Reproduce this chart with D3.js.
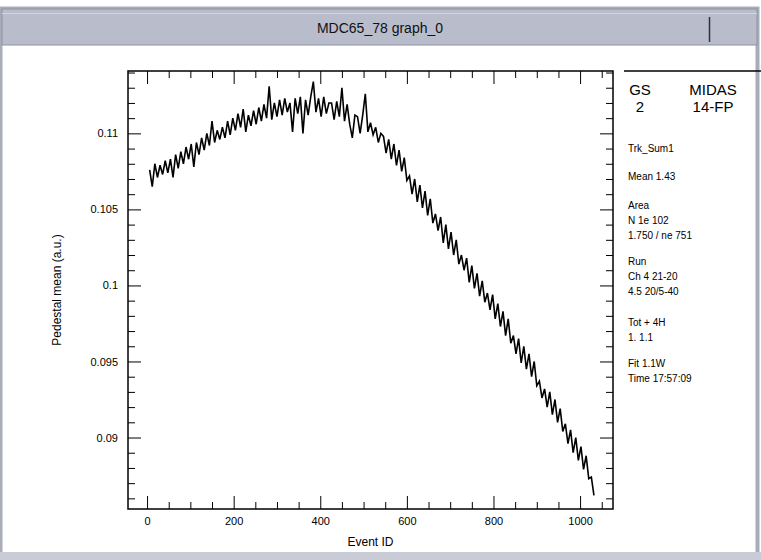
<!DOCTYPE html>
<html>
<head>
<meta charset="utf-8">
<script src="https://cdn.jsdelivr.net/npm/d3@7"></script>
<style>
  body { margin: 0; background: #fff; }
  svg { display: block; font-family: "Liberation Sans", Arial, sans-serif; }
</style>
</head>
<body>
<div id="viz"></div>
<script>
// chart content
const windowTitle = "MDC65_78 graph_0";
const xTitle = "Event ID";
const yTitle = "Pedestal mean (a.u.)";

// graph points: x = xStart + i * xStep (channel spacing), y
const xStart = 6;
const xStep = 6;
const yValues = [
    0.1076, 0.1065, 0.1080, 0.1071, 0.1079, 0.1073, 0.1082, 0.1074, 0.1083, 0.1071,
    0.1086, 0.1077, 0.1088, 0.1080, 0.1091, 0.1083, 0.1093, 0.1078, 0.1094, 0.1086,
    0.1097, 0.1089, 0.1100, 0.1092, 0.1108, 0.1094, 0.1102, 0.1096, 0.1104, 0.1097,
    0.1108, 0.1099, 0.1110, 0.1102, 0.1113, 0.1104, 0.1116, 0.1101, 0.1112, 0.1105,
    0.1115, 0.1106, 0.1117, 0.1108, 0.1119, 0.1110, 0.1131, 0.1109, 0.1120, 0.1111,
    0.1122, 0.1112, 0.1123, 0.1114, 0.1120, 0.1101, 0.1123, 0.1113, 0.1124, 0.1100,
    0.1122, 0.1112, 0.1124, 0.1134, 0.1114, 0.1123, 0.1111, 0.1124, 0.1113, 0.1120,
    0.1120, 0.1109, 0.1121, 0.1111, 0.1130, 0.1108, 0.1119, 0.1106, 0.1097, 0.1112,
    0.1111, 0.1100, 0.1112, 0.1126, 0.1101, 0.1107, 0.1099, 0.1104, 0.1094, 0.1100,
    0.1098, 0.1087, 0.1096, 0.1083, 0.1093, 0.1079, 0.1089, 0.1075, 0.1084, 0.1069,
    0.1072, 0.1060, 0.1070, 0.1055, 0.1066, 0.1051, 0.1062, 0.1046, 0.1057, 0.1041,
    0.1047, 0.1036, 0.1045, 0.1028, 0.1040, 0.1024, 0.1035, 0.1020, 0.1030, 0.1014,
    0.1020, 0.1010, 0.1018, 0.1002, 0.1013, 0.0998, 0.1008, 0.0993, 0.1003, 0.0989,
    0.0995, 0.0984, 0.0994, 0.0978, 0.0988, 0.0973, 0.0983, 0.0967, 0.0978, 0.0962,
    0.0967, 0.0955, 0.0965, 0.0949, 0.0960, 0.0945, 0.0955, 0.0940, 0.0950, 0.0934,
    0.0937, 0.0926, 0.0932, 0.0920, 0.0930, 0.0915, 0.0925, 0.0910, 0.0919, 0.0904,
    0.0909, 0.0896, 0.0905, 0.0890, 0.0900, 0.0885, 0.0894, 0.0879, 0.0888, 0.0873,
    0.0874, 0.0862
];

// axes
const xDomain = [-44, 1076];
const yDomain = [0.0853, 0.1141];
const xMajorTicks = [0, 200, 400, 600, 800, 1000];
const xMinorTicks = [50, 100, 150, 250, 300, 350, 450, 500, 550, 650, 700, 750, 850, 900, 950, 1050];
const yMajorTicks = [0.09, 0.095, 0.1, 0.105, 0.11];
const yMajorLabels = ["0.09", "0.095", "0.1", "0.105", "0.11"];
const yMinorTicks = [0.086, 0.087, 0.088, 0.089, 0.091, 0.092, 0.093, 0.094, 0.096, 0.097, 0.098, 0.099,
    0.101, 0.102, 0.103, 0.104, 0.106, 0.107, 0.108, 0.109, 0.111, 0.112, 0.113, 0.114];

// stats pave text
const statsHeader = [["GS", "MIDAS"], ["2", "14-FP"]];
const statsLines = [
    ["Trk_Sum1"],
    ["Mean 1.43"],
    ["Area", "N   1e 102", "1.750 / ne 751"],
    ["Run", "Ch 4 21-20", "4.5 20/5-40"],
    ["Tot + 4H", "1.  1.1"],
    ["Fit  1.1W", "Time 17:57:09"]
];

const width = 761;
const height = 560;
const frame = { left: 128, top: 71, right: 613, bottom: 509 };

const svg = d3.select("#viz")
    .append("svg")
    .attr("width", width)
    .attr("height", height);

// window chrome
svg.append("rect").attr("x", 0).attr("y", 0).attr("width", width).attr("height", height).attr("fill", "#fff");
svg.append("rect").attr("x", 0.5).attr("y", 8.5).attr("width", width - 4).attr("height", height - 9)
    .attr("fill", "none").attr("stroke", "#a9adb9").attr("stroke-width", 4);
svg.append("rect").attr("x", 2).attr("y", 9).attr("width", width - 6).attr("height", 36)
    .attr("fill", "#b8bccb").attr("stroke", "#8f93a2");
svg.append("line").attr("x1", 2).attr("x2", width - 4).attr("y1", 13.5).attr("y2", 13.5)
    .attr("stroke", "#d3d6df");
svg.append("line").attr("x1", 709.5).attr("x2", 709.5).attr("y1", 17).attr("y2", 42)
    .attr("stroke", "#333").attr("stroke-width", 1.5);
svg.append("text").attr("x", 380).attr("y", 33).attr("text-anchor", "middle")
    .attr("font-size", 14).attr("fill", "#111").text(windowTitle);
svg.append("rect").attr("x", 0).attr("y", 552).attr("width", width).attr("height", 8).attr("fill", "#c9ccd6");

const x = d3.scaleLinear().domain(xDomain).range([frame.left, frame.right]);
const y = d3.scaleLinear().domain(yDomain).range([frame.bottom, frame.top]);

function styleAxis(g) {
    g.select(".domain").remove();
    g.selectAll(".tick line").attr("stroke", "#000");
    g.selectAll(".tick text").attr("fill", "#000").attr("font-size", 11)
        .attr("font-family", "'Liberation Sans', Arial, sans-serif");
}

// minor ticks on all four sides
svg.append("g").attr("transform", `translate(0,${frame.bottom})`)
    .call(d3.axisBottom(x).tickValues(xMinorTicks).tickSize(-7).tickFormat("")).call(styleAxis);
svg.append("g").attr("transform", `translate(0,${frame.top})`)
    .call(d3.axisTop(x).tickValues(xMinorTicks).tickSize(-7).tickFormat("")).call(styleAxis);
svg.append("g").attr("transform", `translate(${frame.left},0)`)
    .call(d3.axisLeft(y).tickValues(yMinorTicks).tickSize(-7).tickFormat("")).call(styleAxis);
svg.append("g").attr("transform", `translate(${frame.right},0)`)
    .call(d3.axisRight(y).tickValues(yMinorTicks).tickSize(-7).tickFormat("")).call(styleAxis);

// major ticks + labels
svg.append("g").attr("transform", `translate(0,${frame.bottom})`)
    .call(d3.axisBottom(x).tickValues(xMajorTicks).tickSize(-13).tickPadding(8).tickFormat(d3.format("d")))
    .call(styleAxis);
svg.append("g").attr("transform", `translate(0,${frame.top})`)
    .call(d3.axisTop(x).tickValues(xMajorTicks).tickSize(-13).tickFormat("")).call(styleAxis);
svg.append("g").attr("transform", `translate(${frame.left},0)`)
    .call(d3.axisLeft(y).tickValues(yMajorTicks).tickSize(-13).tickPadding(10)
        .tickFormat((d, i) => yMajorLabels[i]))
    .call(styleAxis);
svg.append("g").attr("transform", `translate(${frame.right},0)`)
    .call(d3.axisRight(y).tickValues(yMajorTicks).tickSize(-13).tickFormat("")).call(styleAxis);

// frame
svg.append("rect")
    .attr("x", frame.left).attr("y", frame.top)
    .attr("width", frame.right - frame.left).attr("height", frame.bottom - frame.top)
    .attr("fill", "none").attr("stroke", "#000").attr("stroke-width", 1.5);

// graph
const line = d3.line()
    .x((d, i) => x(xStart + i * xStep))
    .y(d => y(d));

svg.append("path")
    .datum(yValues)
    .attr("fill", "none")
    .attr("stroke", "#000")
    .attr("stroke-width", 1.6)
    .attr("d", line);

// axis titles
svg.append("text")
    .attr("x", (frame.left + frame.right) / 2).attr("y", 546)
    .attr("text-anchor", "middle").attr("font-size", 12)
    .text(xTitle);
svg.append("text")
    .attr("transform", `translate(61,${(frame.top + frame.bottom) / 2}) rotate(-90)`)
    .attr("text-anchor", "middle").attr("font-size", 12)
    .text(yTitle);

// stats box
svg.append("path")
    .attr("d", `M624,${frame.top}H${width}`)
    .attr("stroke", "#000").attr("stroke-width", 1.5);

const stats = svg.append("g").attr("font-size", 10).attr("fill", "#000");
statsHeader.forEach(([a, b], i) => {
    stats.append("text").attr("x", 640).attr("y", 95 + i * 17).attr("font-size", 15)
        .attr("text-anchor", "middle").text(a);
    stats.append("text").attr("x", 713).attr("y", 95 + i * 17).attr("font-size", 15)
        .attr("text-anchor", "middle").text(b);
});

const blockTops = [152, 180, 209, 265, 326, 367];
statsLines.forEach((block, bi) => {
    block.forEach((t, li) => {
        stats.append("text").attr("x", 628).attr("y", blockTops[bi] + li * 15).text(t);
    });
});
</script>
</body>
</html>
